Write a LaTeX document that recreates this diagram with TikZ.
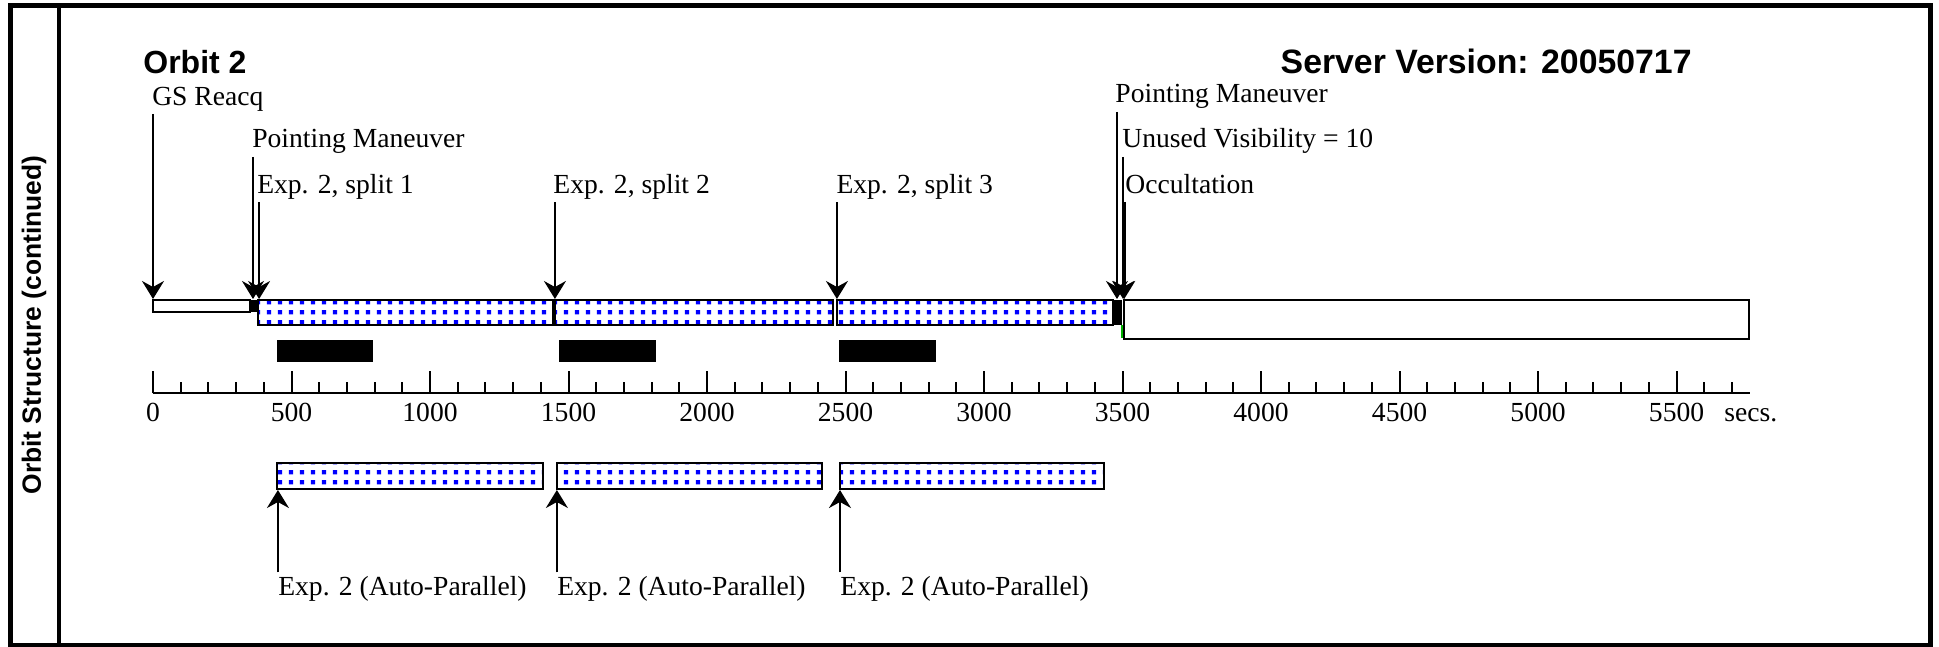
\documentclass[tikz,border=0pt]{standalone}
\usepackage{fontspec}
\setmainfont{Liberation Serif}
\setsansfont{Liberation Sans}
\usetikzlibrary{calc,patterns,arrows.meta}

% blue dot fill for the exposure bars
\pgfdeclarepatternformonly{bluedots}{\pgfpointorigin}{\pgfpoint{5.5pt}{5pt}}{\pgfpoint{5.5pt}{5pt}}{%
  \pgfpathrectangle{\pgfpoint{1.6pt}{1.4pt}}{\pgfpoint{2.3pt}{2.3pt}}\pgfusepath{fill}}

\tikzset{evt/.style = {-{Stealth[length=9pt,width=11pt,inset=3pt]}, line width=1pt}}

\begin{document}
\begin{tikzpicture}[x=0.5pt, y=-0.5pt,
    title/.style={inner sep=0pt, font=\sffamily\bfseries\fontsize{16}{18}\selectfont},
    lbl/.style={anchor=base west, inner sep=0pt, font=\fontsize{13.8}{15}\selectfont},
    tick/.style={anchor=base, inner sep=0pt, font=\fontsize{13.8}{15}\selectfont},
    expbar/.style={draw, line width=1pt, pattern=bluedots, pattern color=blue},
    plainbar/.style={draw, line width=1pt, fill=white},
    ]
    \useasboundingbox (0,0) rectangle (1939,647);

    % frame with the side column
    \draw[line width=2.5pt] (10,5.5) rectangle (1930,645);
    \draw[line width=2pt] (59,5.5) -- (59,645);
    \node[title, rotate=90, font=\sffamily\bfseries\fontsize{13.2}{15}\selectfont] (side) at (34,325) {Orbit Structure (continued)};

    \node[title, anchor=base west] (orbit) at (143,74) {Orbit 2};
    \node[title, anchor=base east, font=\sffamily\bfseries\fontsize{16.9}{18}\selectfont] (server) at (1692,74) {Server Version: 20050717};

    % time line, x in seconds
    \begin{scope}[xshift=76.5pt, x=0.1385pt]
    % orbit bars
    \draw[plainbar] (0,300) rectangle (350,312);
    \fill (350,300) rectangle (379,312);
    \draw[expbar] (379,300) rectangle (1444,325);
    \draw[expbar] (1451,300) rectangle (2455,325);
    \draw[expbar] (2469,300) rectangle (3466,325);
    \fill (3466,300) rectangle (3498,325);
    \draw[green!70!black, line width=1pt] (3498,325) -- (3498,338);
    \draw[plainbar] (3505,300) rectangle (5762,339);

    \foreach \a/\b in {448/794, 1466/1816, 2477/2827}
      \fill (\a,340) rectangle (\b,362);

    % axis
    \draw[line width=1pt] (0,393) -- (5765,393);
    \foreach \t in {0,100,...,5700}
      \draw[line width=1pt] (\t,393) -- (\t,382);
    \foreach \t in {0,500,...,5500}{
      \draw[line width=1pt] (\t,393) -- (\t,371);
      \node[tick] (tk\t) at (\t,421) {\t};
    }
    \node[lbl] (secs) at (5671,421) {secs.};

    % events above the bars
    \foreach \name/\lx/\ly/\ax/\txt in {gs/-4/105/0/GS Reacq,
        pmA/357/148/361/Pointing Maneuver,
        spA/375/193/383/{Exp. 2, split 1},
        spB/1444/193/1451/{Exp. 2, split 2},
        spC/2466/193/2469/{Exp. 2, split 3},
        pmB/3473/103/3480/Pointing Maneuver,
        vis/3498/148/3502/{Unused Visibility = 10}}{
      \node[lbl] (\name) at (\lx,\ly) {\txt};
      \coordinate (t\name) at (\ax,299);
      \draw[evt] ($(\name.base -| t\name)+(0,9)$) -- (t\name);
    }
    \node[lbl] (occ) at (3509,193) {Occultation};
    \coordinate (tocc) at (3506,299);
    \draw[evt, line width=2pt] ($(occ.base -| tocc)+(0,9)$) -- (tocc);

    % auto-parallel exposures
    \foreach \a/\b in {448/1408, 1458/2415, 2480/3433}
      \draw[expbar] (\a,463) rectangle (\b,489);
    \foreach \name/\ax in {apA/451, apB/1458, apC/2480}{
      \node[lbl] (\name) at (\ax,595) {Exp. 2 (Auto-Parallel)};
      \coordinate (t\name) at (\ax,490);
      \draw[evt] ($(\name.north -| t\name)+(0,-3)$) -- (t\name);
    }
    \end{scope}
\end{tikzpicture}
\end{document}
